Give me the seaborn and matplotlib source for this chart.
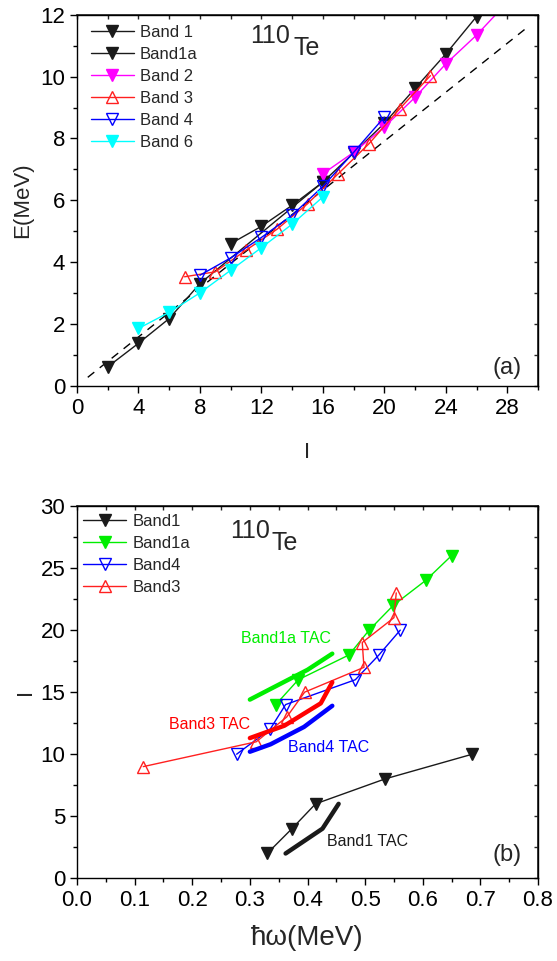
import matplotlib
matplotlib.use("Agg")
import matplotlib.pyplot as plt
import seaborn as sns
import pandas as pd
from matplotlib.ticker import MultipleLocator, FormatStrFormatter

# ---------------- data: panel (a) ----------------
b1_I = [2, 4, 6, 8, 16, 18, 20, 22, 24, 26]
b1_E = [0.62, 1.38, 2.18, 3.31, 6.59, 7.53, 8.49, 9.62, 10.73, 11.94]
b1a_I = [10, 12, 14, 16]
b1a_E = [4.60, 5.16, 5.84, 6.59]
b2_I = [16, 18, 20, 22, 24, 26, 28]
b2_E = [6.86, 7.55, 8.37, 9.33, 10.41, 11.34, 12.40]
b3_I = [7, 9, 11, 13, 15, 17, 19, 21, 23]
b3_E = [3.53, 3.69, 4.39, 5.06, 5.89, 6.86, 7.83, 8.96, 10.03]
b4_I = [8, 10, 12, 14, 16, 18, 20]
b4_E = [3.58, 4.14, 4.80, 5.52, 6.45, 7.55, 8.69]
b6_I = [4, 6, 8, 10, 12, 14, 16]
b6_E = [1.86, 2.38, 3.01, 3.74, 4.47, 5.23, 6.11]
ref_I = [0.7, 29.3]
ref_E = [0.28, 11.59]

# ---------------- data: panel (b) ----------------
pb1_w = [0.330, 0.373, 0.414, 0.534, 0.686]
pb1_I = [2, 4, 6, 8, 10]
pb1a_w = [0.345, 0.384, 0.472, 0.507, 0.549, 0.605, 0.650]
pb1a_I = [14, 16, 18, 20, 22, 24, 26]
pb4_w = [0.277, 0.335, 0.362, 0.483, 0.524, 0.561]
pb4_I = [10, 12, 14, 16, 18, 20]
pb3_w = [0.115, 0.311, 0.364, 0.395, 0.498, 0.495, 0.550, 0.554]
pb3_I = [9, 11, 13, 15, 17, 19, 21, 23]

tac1_w = [0.362, 0.426, 0.454]
tac1_I = [2.0, 4.0, 6.0]
tac1a_w = [0.300, 0.350, 0.400, 0.443]
tac1a_I = [14.4, 15.6, 16.8, 18.1]
tac4_w = [0.300, 0.336, 0.394, 0.443]
tac4_I = [10.2, 10.8, 12.2, 13.9]
tac3_w = [0.300, 0.360, 0.423, 0.443]
tac3_I = [11.3, 12.3, 14.1, 15.8]

sns.set_theme(style="white")
plt.rcParams['font.family'] = ['Liberation Sans', 'DejaVu Sans']

W, H = 557, 961
fig = plt.figure(figsize=(W / 100, H / 100), dpi=100)
fig.patch.set_facecolor('white')

def px_axes(l, t, r, b):
    return fig.add_axes([l / W, 1 - b / H, (r - l) / W, (b - t) / H])

axa = px_axes(77, 14.7, 538, 386)
axb = px_axes(77, 506, 538, 878.3)

GREEN = '#00EE00'

def series(ax, x, y, color, marker=None, filled=True, lw=1.0, ms=8, label=None, ls='-'):
    df = pd.DataFrame({'x': x, 'y': y})
    kw = dict(color=color, linewidth=lw, linestyle=ls)
    if marker is not None:
        kw.update(marker=marker, markersize=ms, markeredgecolor=color,
                  markerfacecolor=color if filled else 'none', markeredgewidth=1.0)
    sns.lineplot(data=df, x='x', y='y', ax=ax, sort=False, estimator=None,
                 label=label, **kw)

# ---- panel (a)
series(axa, ref_I, ref_E, 'black', lw=1.0, ls=(0, (6, 5)))
series(axa, b1_I, b1_E, '#1a1a1a', 'v', label='Band 1')
series(axa, b1a_I, b1a_E, '#1a1a1a', 'v', label='Band1a')
series(axa, b2_I, b2_E, '#FF00FF', 'v', label='Band 2')
series(axa, b3_I, b3_E, '#FF2020', '^', filled=False, label='Band 3')
series(axa, b4_I, b4_E, '#0000FF', 'v', filled=False, label='Band 4')
series(axa, b6_I, b6_E, '#00FFFF', 'v', label='Band 6')

axa.set_xlim(0, 30)
axa.set_ylim(0, 12)
axa.xaxis.set_major_locator(MultipleLocator(4))
axa.xaxis.set_minor_locator(MultipleLocator(2))
axa.yaxis.set_major_locator(MultipleLocator(2))
axa.yaxis.set_minor_locator(MultipleLocator(1))
axa.set_xlabel('I', fontsize=16, labelpad=17)
axa.set_ylabel('E(MeV)', fontsize=16, labelpad=5)
axa.text(0.933, 0.048, '(a)', transform=axa.transAxes, fontsize=17, ha='center', va='center')
axa.text((250 - 77) / 461, (386 - 43) / 371.3, '110', transform=axa.transAxes,
         fontsize=18, ha='left', va='baseline')
axa.text((294 - 77) / 461, (386 - 55) / 371.3, 'Te', transform=axa.transAxes,
         fontsize=18, ha='left', va='baseline')

# ---- panel (b)
series(axb, pb1_w, pb1_I, '#1a1a1a', 'v', label='Band1')
series(axb, pb1a_w, pb1a_I, GREEN, 'v', label='Band1a')
series(axb, pb4_w, pb4_I, '#0000FF', 'v', filled=False, label='Band4')
series(axb, pb3_w, pb3_I, '#FF2020', '^', filled=False, label='Band3')
series(axb, tac1_w, tac1_I, '#1a1a1a', lw=3.2)
series(axb, tac1a_w, tac1a_I, GREEN, lw=3.2)
series(axb, tac4_w, tac4_I, '#0000FF', lw=3.2)
series(axb, tac3_w, tac3_I, '#FF0000', lw=3.2)

axb.text(0.285, 19.3, 'Band1a TAC', color=GREEN, fontsize=11.5, va='center', ha='left')
axb.text(0.160, 12.4, 'Band3 TAC', color='#FF0000', fontsize=11.5, va='center', ha='left')
axb.text(0.367, 10.5, 'Band4 TAC', color='#0000FF', fontsize=11.5, va='center', ha='left')
axb.text(0.434, 3.0, 'Band1 TAC', color='#1a1a1a', fontsize=11.5, va='center', ha='left')

axb.set_xlim(0, 0.8)
axb.set_ylim(0, 30)
axb.xaxis.set_major_locator(MultipleLocator(0.1))
axb.xaxis.set_minor_locator(MultipleLocator(0.05))
axb.yaxis.set_major_locator(MultipleLocator(5))
axb.yaxis.set_minor_locator(MultipleLocator(2.5))
axb.xaxis.set_major_formatter(FormatStrFormatter('%.1f'))
axb.set_xlabel('ħω(MeV)', fontsize=20, labelpad=10)
axb.set_ylabel('I', fontsize=16, labelpad=3)
axb.text(0.933, 0.062, '(b)', transform=axb.transAxes, fontsize=17, ha='center', va='center')
axb.text((230 - 77) / 461, (878.3 - 538) / 371.8, '110', transform=axb.transAxes,
         fontsize=18, ha='left', va='baseline')
axb.text((272 - 77) / 461, (878.3 - 550) / 371.8, 'Te', transform=axb.transAxes,
         fontsize=18, ha='left', va='baseline')

for ax, leg_xy in ((axa, (0.030, 0.972)), (axb, (0.013, 0.978))):
    for s in ax.spines.values():
        s.set_visible(True)
        s.set_color('black')
        s.set_linewidth(1.0)
    ax.set_facecolor('white')
    ax.grid(False)
    ax.tick_params(which='both', direction='out', colors='black', labelsize=16,
                   top=False, right=False, bottom=True, left=True)
    ax.tick_params(which='major', length=5, width=1.0)
    ax.tick_params(which='minor', length=3, width=1.0)
    sx = ax.secondary_xaxis('top')
    sx.xaxis.set_major_locator(ax.xaxis.get_major_locator())
    sx.xaxis.set_minor_locator(ax.xaxis.get_minor_locator())
    sx.tick_params(which='both', direction='in', length=3, width=1.0, labeltop=False)
    sy = ax.secondary_yaxis('right')
    sy.yaxis.set_major_locator(ax.yaxis.get_major_locator())
    sy.yaxis.set_minor_locator(ax.yaxis.get_minor_locator())
    sy.tick_params(which='both', direction='in', length=3, width=1.0, labelright=False)
    ax.legend(loc='upper left', bbox_to_anchor=leg_xy, frameon=False, fontsize=12,
              handlelength=2.6, handletextpad=0.35, labelspacing=0.42,
              borderaxespad=0, borderpad=0, numpoints=1)

fig.savefig('out.png', dpi=100, facecolor='white')
